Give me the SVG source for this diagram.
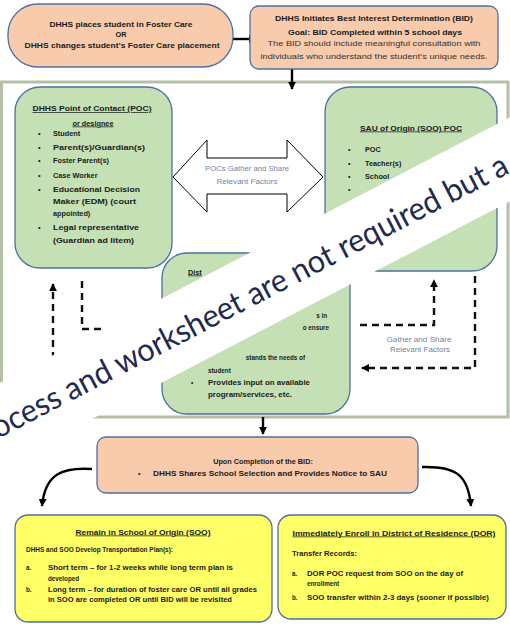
<svg xmlns="http://www.w3.org/2000/svg" width="510" height="627" viewBox="0 0 510 627">
<defs>
<style>
.peach{fill:#f8cbad;stroke:#4f6fa3;stroke-width:1.3}
.green{fill:#c5e0b4;stroke:#4f6fa3;stroke-width:1.3}
.yellow{fill:#ffff66;stroke:#4f6fa3;stroke-width:1.3}
text{font-family:"Liberation Sans",Arial,sans-serif;fill:#1a1a1a}
.b{font-weight:bold}
.t{font-size:7.3px}
.s{font-size:6.3px}
.c{text-anchor:middle}
.u{text-decoration:underline}
.lt{fill:#7382a8;font-size:6.8px}
.con{fill:none;stroke:#000;stroke-width:2.4}
.dash{fill:none;stroke:#111;stroke-width:2.4;stroke-dasharray:7 5}
</style>
<marker id="ah" viewBox="0 0 10 10" refX="9" refY="5" markerWidth="8" markerHeight="8" markerUnits="userSpaceOnUse" orient="auto">
<path d="M0,0 L10,5 L0,10 z" fill="#000"/>
</marker>
</defs>
<rect width="510" height="627" fill="#fff"/>
<rect x="1.5" y="82" width="506.5" height="335" fill="none" stroke="#b3c0a6" stroke-width="3"/>

<g id="connectors">
<path class="con" d="M233,39 H256" marker-end="url(#ah)"/>
<path class="con" d="M292,69 V89" marker-end="url(#ah)"/>
<path class="con" d="M263,417 V434" marker-end="url(#ah)"/>
<path class="con" d="M92,469 C62,467 45,474 42,506" marker-end="url(#ah)"/>
<path class="con" d="M422,467 C455,466 468,474 471,506" marker-end="url(#ah)"/>
<path class="dash" d="M160,372 H53 V284" marker-end="url(#ah)"/>
<path class="dash" d="M82,281 V329 H160" marker-end="url(#ah)"/>
<path class="dash" d="M360,325 H434 V280" marker-end="url(#ah)"/>
<path class="dash" d="M475,276 V368 H362" marker-end="url(#ah)"/>
<polygon points="173,177 207,140 207,158 287,158 287,140 323,177 287,212 287,194 207,194 207,212" fill="#fff" stroke="#000" stroke-width="1"/>
<text class="c lt" x="247" y="171" textLength="84" lengthAdjust="spacingAndGlyphs">POCs Gather and Share</text>
<text class="c lt" x="247" y="184" textLength="61" lengthAdjust="spacingAndGlyphs">Relevant Factors</text>
<text class="c lt" x="419" y="342" textLength="65" lengthAdjust="spacingAndGlyphs">Gather and Share</text>
<text class="c lt" x="420" y="352" textLength="60" lengthAdjust="spacingAndGlyphs">Relevant Factors</text>
</g>

<g id="start">
<rect class="peach" x="8" y="4" width="225" height="63" rx="30"/>
<text class="b t c" x="121" y="27" textLength="143" lengthAdjust="spacingAndGlyphs">DHHS places student in Foster Care</text>
<text class="b t c" x="121" y="37">OR</text>
<text class="b t c" x="122" y="48" textLength="195" lengthAdjust="spacingAndGlyphs">DHHS changes student’s Foster Care placement</text>
</g>

<g id="bid">
<rect class="peach" x="250" y="6" width="248" height="63" rx="9"/>
<text class="b t c" x="374" y="21" textLength="198" lengthAdjust="spacingAndGlyphs">DHHS Initiates Best Interest Determination (BID)</text>
<text class="b t c" x="375" y="34.5" textLength="174" lengthAdjust="spacingAndGlyphs">Goal: BID Completed within 5 school days</text>
<text class="t c" x="374" y="45.5" textLength="213" lengthAdjust="spacingAndGlyphs" style="fill:#333">The BID should include meaningful consultation with</text>
<text class="t c" x="374" y="58.5" textLength="227" lengthAdjust="spacingAndGlyphs" style="fill:#333">individuals who understand the student’s unique needs.</text>
</g>

<g id="dhhs-poc">
<rect class="green" x="15" y="87" width="157" height="181" rx="25"/>
<text class="b t c u" x="92" y="111" textLength="119" lengthAdjust="spacingAndGlyphs">DHHS Point of Contact (POC)</text>
<text class="b t c u" x="93" y="125.5">or designee</text>
<g class="b t">
<text x="38" y="136">•</text><text x="53" y="136">Student</text>
<text x="38" y="149.5">•</text><text x="53" y="149.5" textLength="92" lengthAdjust="spacingAndGlyphs">Parent(s)/Guardian(s)</text>
<text x="38" y="163">•</text><text x="53" y="163">Foster Parent(s)</text>
<text x="38" y="177.5">•</text><text x="53" y="177.5">Case Worker</text>
<text x="38" y="191.5">•</text><text x="53" y="191.5" textLength="87" lengthAdjust="spacingAndGlyphs">Educational Decision</text>
<text x="53" y="204" textLength="83" lengthAdjust="spacingAndGlyphs">Maker (EDM) (court</text>
<text x="53" y="216">appointed)</text>
<text x="38" y="229.5">•</text><text x="53" y="229.5" textLength="86" lengthAdjust="spacingAndGlyphs">Legal representative</text>
<text x="53" y="242.5" textLength="81" lengthAdjust="spacingAndGlyphs">(Guardian ad litem)</text>
</g>
</g>

<g id="soo-poc">
<rect class="green" x="325" y="87" width="172" height="184" rx="25"/>
<text class="b t c u" x="411" y="130.5" textLength="102" lengthAdjust="spacingAndGlyphs">SAU of Origin (SOO) POC</text>
<g class="b t">
<text x="348" y="151.5">•</text><text x="365" y="151.5">POC</text>
<text x="348" y="165.5">•</text><text x="365" y="165.5">Teacher(s)</text>
<text x="348" y="178.5">•</text><text x="365" y="178.5">School</text>
<text x="348" y="192">•</text>
</g>
</g>

<g id="dor-poc">
<rect class="green" x="162" y="253" width="188" height="161" rx="25"/>
<text class="b t u" x="188" y="274.5">Dist</text>
<g class="b s">
<text x="327" y="317.5" text-anchor="end">s in</text>
<text x="329" y="329.5" text-anchor="end">o ensure</text>
<text x="305" y="359.5" text-anchor="end">stands the needs of</text>
<text x="208" y="372.5">student</text>
<text x="191" y="384.5">•</text>
<text x="208" y="384.5" textLength="102" lengthAdjust="spacingAndGlyphs">Provides input on available</text>
<text x="208" y="396.5" textLength="84" lengthAdjust="spacingAndGlyphs">program/services, etc.</text>
</g>
</g>

<g id="completion">
<rect class="peach" x="97" y="437" width="321" height="56" rx="9"/>
<text class="b t c" x="263" y="463.5">Upon Completion of the BID:</text>
<text class="t" x="138" y="476">•</text>
<text class="t" x="153" y="476" textLength="234" lengthAdjust="spacingAndGlyphs" style="font-weight:600">DHHS Shares School Selection and Provides Notice to SAU</text>
</g>

<g id="remain-soo">
<rect class="yellow" x="15" y="515" width="257" height="107" rx="13"/>
<text class="b t c u" x="143" y="534.5" textLength="135" lengthAdjust="spacingAndGlyphs">Remain in School of Origin (SOO)</text>
<g class="b s">
<text x="26" y="551.5" textLength="147" lengthAdjust="spacingAndGlyphs">DHHS and SOO Develop Transportation Plan(s):</text>
<text x="26" y="569.5">a.</text>
<text x="48" y="569.5" textLength="185" lengthAdjust="spacingAndGlyphs">Short term – for 1-2 weeks while long term plan is</text>
<text x="48" y="580.5">developed</text>
<text x="26" y="591.5">b.</text>
<text x="48" y="591.5" textLength="209" lengthAdjust="spacingAndGlyphs">Long term – for duration of foster care OR until all grades</text>
<text x="48" y="601.5" textLength="184" lengthAdjust="spacingAndGlyphs">in SOO are completed OR until BID will be revisited</text>
</g>
</g>

<g id="enroll-dor">
<rect class="yellow" x="278" y="515" width="228" height="104" rx="13"/>
<text class="b t c u" x="394" y="535.5" textLength="203" lengthAdjust="spacingAndGlyphs">Immediately Enroll in District of Residence (DOR)</text>
<g class="b s">
<text x="292" y="555.5" textLength="65" lengthAdjust="spacingAndGlyphs">Transfer Records:</text>
<text x="292" y="575.5">a.</text>
<text x="307" y="575.5" textLength="156" lengthAdjust="spacingAndGlyphs">DOR POC request from SOO on the day of</text>
<text x="307" y="585.5">enrollment</text>
<text x="292" y="599.5">b.</text>
<text x="307" y="599.5" textLength="182" lengthAdjust="spacingAndGlyphs">SOO transfer within 2-3 days (sooner if possible)</text>
</g>
</g>

<g id="banner">
<polygon points="-10,388 520,112 520,196 -10,472" fill="#fff"/>
<text transform="translate(-2,439) rotate(-27.47)" x="0" y="0" textLength="578" lengthAdjust="spacingAndGlyphs" style="font-family:Lato,'Open Sans',sans-serif;font-size:32px;fill:#1f2b4d">ocess and worksheet are not required but a</text>
</g>
</svg>
